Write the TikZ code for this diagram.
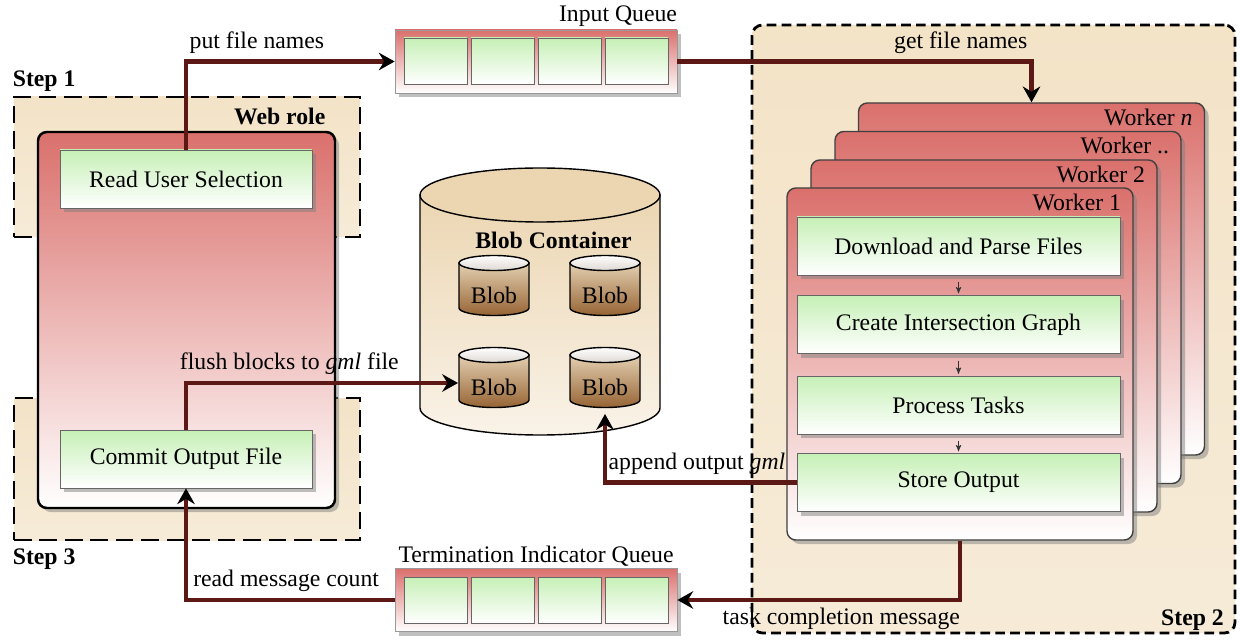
\documentclass[tikz,border=0pt]{standalone}
\usepackage{fontspec}
\setmainfont{Liberation Serif}
\usetikzlibrary{arrows, arrows.meta, shadows}

\definecolor{stepbg}{RGB}{243,227,199}
\definecolor{rolered}{RGB}{218,112,108}
\definecolor{taskgreen}{RGB}{198,240,182}
\definecolor{flowcol}{RGB}{92,24,20}
\definecolor{blobtop}{RGB}{228,208,178}
\definecolor{blobbot}{RGB}{150,100,52}
\definecolor{blobcap}{RGB}{222,216,210}
\definecolor{contcol}{RGB}{236,214,178}

\begin{document}
\begin{tikzpicture}[font=\fontsize{13.5}{16}\selectfont, >=stealth',
	stepbox/.style={draw, line width=1.7pt, dash pattern=on 10pt off 4.5pt, top color=stepbg, bottom color=stepbg!70},
	role/.style={draw, line width=1.4pt, rounded corners=5pt, top color=rolered, bottom color=white, drop shadow},
	task/.style={draw=black!60, top color=taskgreen, bottom color=white, minimum width=5.04cm, minimum height=1.16cm, drop shadow},
	queue/.style={draw=black!40, top color=rolered, bottom color=white, minimum width=5.64cm, minimum height=1.26cm, drop shadow},
	cell/.style={draw=black!60, top color=taskgreen, bottom color=white, minimum width=1.26cm, minimum height=0.92cm},
	worker/.style={draw=black!75, thick, rounded corners=5pt, top color=rolered, bottom color=white, minimum width=6.92cm, minimum height=7.04cm, drop shadow},
	flow/.style={-{Stealth[length=9pt, width=10pt, inset=3pt, black]}, draw=flowcol, line width=2.8pt},
	blob/.pic={
		\draw[thick, top color=blobtop, bottom color=blobbot] (-0.7,0.64) -- (-0.7,-0.26) arc[start angle=180, end angle=360, x radius=0.7, y radius=0.15] -- (0.7,0.64) -- cycle;
		\draw[thick, top color=white, bottom color=blobcap] (0,0.64) ellipse[x radius=0.7, y radius=0.15];
		\node (-lbl) at (0,0) {Blob};
		\coordinate (-w) at (-0.72,0.08);
	}]
	\useasboundingbox (0,0) rectangle (24.8,12.78);

	% web role, steps 1 and 3
	\node[stepbox, minimum width=6.92cm, minimum height=2.8cm] (s1) at (3.74,9.44) {};
	\node[anchor=base west, inner sep=0pt] at ([yshift=5pt]s1.north west) {\bfseries Step 1};
	\node[stepbox, minimum width=6.92cm, minimum height=2.84cm] (s3) at (3.74,3.4) {};
	\node[anchor=north west, inner sep=0pt] at ([yshift=-4pt]s3.south west) {\bfseries Step 3};

	\node[role, minimum width=5.94cm, minimum height=7.52cm] (web) at (3.73,6.38) {};
	\node[anchor=base east, inner sep=0pt] at ([xshift=-6pt,yshift=3.5pt]web.north east) {\bfseries Web role};
	\node[task] (rus) at (3.72,9.2) {Read User Selection};
	\node[task] (cof) at (3.72,3.6) {Commit Output File};

	% queues
	\node[queue] (inq) at (10.72,11.55) {};
	\foreach \x [count=\i] in {8.71,10.05,11.39,12.73}
		\node[cell] (inc\i) at (\x,11.56) {};
	\node[anchor=base east, inner sep=0pt] at ([yshift=4.5pt]inq.north east) {Input Queue};

	\node[queue] (tq) at (10.72,0.78) {};
	\foreach \x [count=\i] in {8.71,10.05,11.39,12.73}
		\node[cell] (tqc\i) at (\x,0.78) {};
	\node[anchor=base, inner sep=0pt] at ([yshift=3.5pt]tq.north) {Termination Indicator Queue};

	% blob container
	\draw[thick, top color=contcol, bottom color=contcol!30] (8.4,8.88) -- (8.4,4.62) arc[start angle=180, end angle=360, x radius=2.4, y radius=0.54] -- (13.2,8.88) -- cycle;
	\draw[thick, fill=contcol] (10.8,8.88) ellipse[x radius=2.4, y radius=0.54];
	\node (contlbl) at (11.07,7.98) {\bfseries Blob Container};
	\pic (b1) at (9.88,6.88) {blob};
	\pic (b2) at (12.1,6.88) {blob};
	\pic (b3) at (9.88,5.04) {blob};
	\pic (b4) at (12.1,5.04) {blob};
	\coordinate (contin) at (12.1,4.5);

	% workers
	\node[stepbox, rounded corners=6pt, line width=1.6pt, dash pattern=on 5.5pt off 3pt, minimum width=9.66cm, minimum height=12.16cm] (s2) at (19.87,6.2) {};
	\node[anchor=base east, inner sep=0pt] at ([xshift=-7pt,yshift=5pt]s2.south east) {\bfseries Step 2};
	\foreach \nm/\lbl/\x/\y in {wn/{Worker \textit{n}}/20.63/7.2, wd/{Worker ..}/20.16/6.63, w2/{Worker 2}/19.68/6.06, w1/{Worker 1}/19.2/5.5} {
		\node[worker] (\nm) at (\x,\y) {};
		\node[anchor=base east, inner sep=0pt] at ([xshift=-7pt,yshift=-13pt]\nm.north east) {\lbl};
	}
	\node[task, minimum width=6.46cm] (dl) at (19.17,7.86) {Download and Parse Files};
	\node[task, minimum width=6.46cm] (cig) at (19.17,6.29) {Create Intersection Graph};
	\node[task, minimum width=6.46cm] (pt) at (19.17,4.68) {Process Tasks};
	\node[task, minimum width=6.46cm] (so) at (19.17,3.13) {Store Output};
	\foreach \a/\b in {dl/cig, cig/pt, pt/so}
		\draw[->, black!80, shorten <=4pt, shorten >=1pt] (\a) -- (\b);

	% data flow
	\draw[flow] (rus.north) |- node[pos=0.67, above] {put file names} (inq.west);
	\draw[flow] (inq.east) -| node[pos=0.4, above] {get file names} (wn.north);
	\draw[flow] (cof.north) |- node[pos=0.69, above] {flush blocks to \textit{gml} file} (b3-w);
	\draw[flow] (so.west) -| node[pos=0.26, above] {append output \textit{gml}} (contin);
	\draw[flow] (w1.south) |- node[pos=0.71, below] {task completion message} (tq.east);
	\draw[flow] (tq.west) -| node[pos=0.26, above] {read message count} (cof.south);
\end{tikzpicture}
\end{document}
